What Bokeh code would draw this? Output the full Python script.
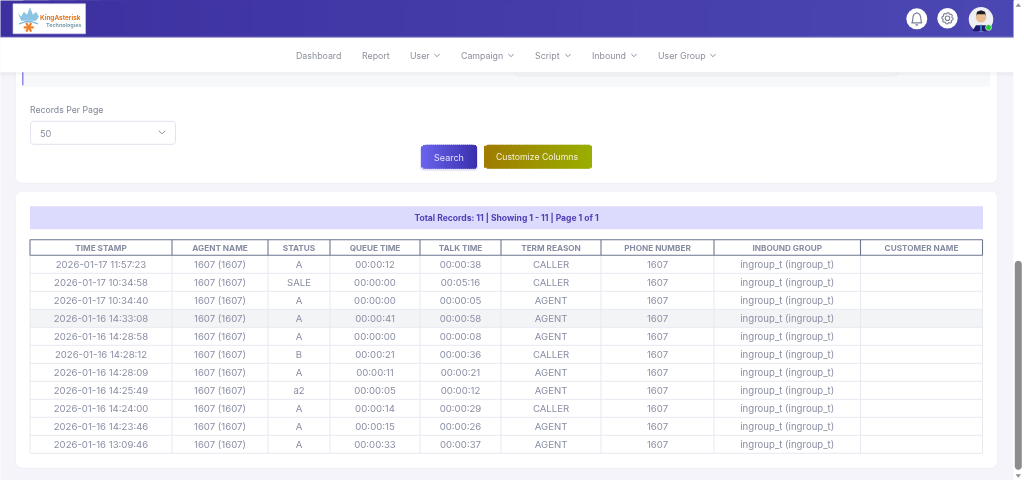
import math
from bokeh.core.properties import value
from bokeh.embed import file_html
from bokeh.models import ColumnDataSource
from bokeh.plotting import figure
from bokeh.resources import INLINE

# ---- table content ----
columns = ["TIME STAMP", "AGENT NAME", "STATUS", "QUEUE TIME", "TALK TIME",
           "TERM REASON", "PHONE NUMBER", "INBOUND GROUP", "CUSTOMER NAME"]
time_stamp = ["2026-01-17 11:57:23", "2026-01-17 10:34:58", "2026-01-17 10:34:40",
              "2026-01-16 14:33:08", "2026-01-16 14:28:58", "2026-01-16 14:28:12",
              "2026-01-16 14:28:09", "2026-01-16 14:25:49", "2026-01-16 14:24:00",
              "2026-01-16 14:23:46", "2026-01-16 13:09:46"]
agent_name = ["1607 (1607)"] * 11
status = ["A", "SALE", "A", "A", "A", "B", "A", "a2", "A", "A", "A"]
queue_time = ["00:00:12", "00:00:00", "00:00:00", "00:00:41", "00:00:00", "00:00:21",
              "00:00:11", "00:00:05", "00:00:14", "00:00:15", "00:00:33"]
talk_time = ["00:00:38", "00:05:16", "00:00:05", "00:00:58", "00:00:08", "00:00:36",
             "00:00:21", "00:00:12", "00:00:29", "00:00:26", "00:00:37"]
term_reason = ["CALLER", "CALLER", "AGENT", "AGENT", "AGENT", "CALLER",
               "AGENT", "AGENT", "CALLER", "AGENT", "AGENT"]
phone_number = ["1607"] * 11
inbound_group = ["ingroup_t (ingroup_t)"] * 11
customer_name = [""] * 11
nav_items = ["Dashboard", "Report", "User", "Campaign", "Script", "Inbound", "User Group"]
summary = "Total Records: 11 | Showing 1 - 11 | Page 1 of 1"
records_label = "Records Per Page"
records_value = "50"
button_labels = ["Search", "Customize Columns"]

# ---- layout (page pixels) ----
W, H = 1024, 480
edges = [30, 172, 268, 330, 420, 501, 601, 714, 860.5, 982.5]
head_top, head_bot = 240, 255.5
row_h = 18
nav_x = [296, 362, 410, 461, 535, 592, 658]
nav_chev = [None, None, 437, 511, 568, 634, 713]
FONT = value("Inter")
DX, DY = 0.5, 0.7

p = figure(width=W, height=H, x_range=(DX, W + DX), y_range=(H + DY, DY), output_backend="svg",
           toolbar_location=None, min_border=0, outline_line_color=None,
           background_fill_color="#f4f4fa", border_fill_color="#f4f4fa",
           styles={"position": "fixed", "left": "0", "top": "0"})
p.axis.visible = False
p.grid.visible = False


def hex_mix(a, b, t):
    ca = [int(a[i:i + 2], 16) for i in (1, 3, 5)]
    cb = [int(b[i:i + 2], 16) for i in (1, 3, 5)]
    return "#%02x%02x%02x" % tuple(round(u + (v - u) * t) for u, v in zip(ca, cb))


def rrect(x0, y0, x1, y1, r=0, fill="#ffffff", line=None, lw=1, alpha=1.0):
    xs, ys = [], []
    for cx, cy, a0 in ((x1 - r, y0 + r, -90), (x1 - r, y1 - r, 0), (x0 + r, y1 - r, 90), (x0 + r, y0 + r, 180)):
        for k in range(7):
            a = math.radians(a0 + k * 15)
            xs.append(cx + r * math.cos(a))
            ys.append(cy + r * math.sin(a))
    p.patch(xs, ys, fill_color=fill, fill_alpha=alpha, line_color=line, line_width=lw)


def grad(x0, y0, x1, y1, c0, c1, r=0, n=40):
    """Horizontal gradient as overlapping strips, with rounded ends when r > 0."""
    step = (x1 - x0) / n
    for i in range(n):
        a = x0 + i * step
        mid = a + step / 2
        inset = 0
        if r:
            d = max(x0 + r - mid, mid - (x1 - r), 0)
            inset = r - math.sqrt(max(r * r - d * d, 0))
        right = x1 if r == 0 else min(a + step + 1, x1)
        p.quad(left=[a], right=[right], top=[y0 + inset], bottom=[y1 - inset],
               fill_color=hex_mix(c0, c1, i / (n - 1)), line_color=None)


def label(x, y, txt, size, color, align="center", style="normal", font=FONT):
    p.text(x=[x], y=[y], text=[txt], text_font=font, text_font_size=f"{size}px",
           text_color=color, text_align=align, text_baseline="middle", text_font_style=style)


def chevron(x, y, size=2.6, color="#8a8f9e", lw=1.0):
    p.line([x - size, x, x + size], [y - size / 2, y + size / 2, y - size / 2],
           line_color=color, line_width=lw)


# ---- cards ----
rrect(15.5, 60, 997.5, 184, 6, fill="#eceef4", alpha=0.6)
rrect(15.5, 192, 997.5, 469, 6, fill="#eceef4", alpha=0.6)
rrect(16, 60, 997, 183, 6, fill="#ffffff")
rrect(16, 192, 997, 468, 6, fill="#ffffff")

# filter panel peeking under the nav bar
p.quad(left=[22], right=[990], top=[70], bottom=[87], fill_color="#f7f8fa", line_color=None)
p.quad(left=[22], right=[23.5], top=[70], bottom=[85.5], fill_color="#8f88e6", line_color=None)
rrect(515, 60, 897, 76, 4, fill="#f7f8fa", line="#eceef3", lw=1)

# ---- header / nav ----
grad(-2, -2, 1013.5, 37.5, "#3d30a0", "#4b47b2", n=40)
p.quad(left=[-2], right=[1013.5], top=[37], bottom=[38], fill_color="#9d98d8", line_color=None)
for i in range(5):
    p.quad(left=[-2], right=[1013.5], top=[72 + i], bottom=[73 + i], fill_color="#000000",
           fill_alpha=0.05 - i * 0.01, line_color=None)
p.quad(left=[-2], right=[1013.5], top=[38], bottom=[72.5], fill_color="#ffffff", line_color=None)
for x, name in zip(nav_x, nav_items):
    label(x, 55.6, name, 8.8, "#8b8f9c", align="left")
for x in nav_chev:
    if x:
        chevron(x, 55.6)

# scrollbar
p.quad(left=[1013.5], right=[W + 2], top=[-2], bottom=[H + 2], fill_color="#ffffff", line_color=None)
rrect(1014.8, 261, 1021.8, 470, 3.5, fill="#8c8c8c")
p.patch([1015.5, 1021, 1018.3], [7, 7, 3.5], fill_color="#8f8f8f", line_color=None)
p.patch([1015.5, 1021, 1018.3], [474.5, 474.5, 478], fill_color="#8f8f8f", line_color=None)

# ---- logo ----
p.quad(left=[13], right=[85.5], top=[4], bottom=[34], fill_color="#ffffff", line_color="#cfd0ea", line_width=0.6)
p.patch([18, 21, 24, 27, 30, 33, 36, 39, 36, 21], [13, 17, 12, 15, 7.5, 15, 12, 17, 21, 21],
        fill_color="#8cc4e4", line_color=None)
p.line([19, 25, 32, 38], [24, 22, 22, 24], line_color="#7ab8dc", line_width=1.4)
for a in (0, 60, 120):
    t = math.radians(a)
    p.line([28.7 - 5 * math.cos(t), 28.7 + 5 * math.cos(t)], [27.5 - 5 * math.sin(t), 27.5 + 5 * math.sin(t)],
           line_color="#f0822a", line_width=2.2)
label(40, 18.5, "KingAsterisk", 6.4, "#e0761c", align="left", style="bold")
label(46, 25.5, "Technologies", 5.4, "#7d9db0", align="left", style="bold")

# ---- header icons ----
p.scatter([916.8, 947.5], [19, 18.5], size=[21, 20.5], fill_color="#ffffff", line_color=None)
p.patch([912.5, 913, 914, 916.8, 919.6, 920.6, 921.2, 922, 911.6],
        [22, 17, 14.5, 13, 14.5, 17, 22, 23, 23],
        fill_color=None, line_color="#7b8196", line_width=1.2)
p.line([915.5, 916.8, 918.1], [24.6, 25.4, 24.6], line_color="#7b8196", line_width=1.2)
gear_x, gear_y = [], []
for k in range(24):
    a = math.radians(k * 15)
    rad = 5.6 if k % 3 != 2 else 4.4
    gear_x.append(947.5 + rad * math.cos(a))
    gear_y.append(18.5 + rad * math.sin(a))
p.patch(gear_x, gear_y, fill_color=None, line_color="#7b8196", line_width=1.1)
p.scatter([947.5], [18.5], size=[4.5], fill_color=None, line_color="#7b8196", line_width=1.1)
# avatar
p.scatter([981], [19.5], size=[24.5], fill_color="#eef0f4", line_color=None)
p.patch([972.5, 976, 986, 989.5, 987, 975], [31, 25.5, 25.5, 31, 31.5, 31.5], fill_color="#221a6e", line_color=None)
p.quad(left=[980.2], right=[981.8], top=[25], bottom=[31.5], fill_color="#3a8fd0", line_color=None)
p.scatter([981], [17.5], size=[10.5], fill_color="#e8bd94", line_color=None)
p.patch([976, 977, 981, 985, 986, 985, 977], [16.5, 12, 10.5, 12, 16.5, 14.5, 14.5], fill_color="#1c1c22", line_color=None)
p.scatter([988.5], [27.7], size=[6], fill_color="#27c93f", line_color="#ffffff", line_width=0.6)

# ---- form controls ----
label(30, 110.2, records_label, 8.7, "#7f8598", align="left")
rrect(30.5, 121.5, 175.5, 144.5, 3.5, fill="#ffffff", line="#dfe3ec")
label(40, 133.4, records_value, 9.2, "#878c9d", align="left")
chevron(162, 132.5, size=3.2, color="#8a8f9e")

rrect(420, 146, 478, 171, 4, fill="#8f88e8", alpha=0.25)
grad(421, 145, 477, 169, "#6a64ec", "#3a2fae", r=4, n=28)
label(449, 157.4, button_labels[0], 9.0, "#e4e2fa")
grad(484, 145, 592, 169, "#a07c00", "#99ae00", r=4, n=40)
label(537, 157.4, button_labels[1], 8.7, "#f4f2d6")

# ---- results banner ----
p.quad(left=[30], right=[983], top=[206.5], bottom=[229.5], fill_color="#dcdafd", line_color=None)
label(506.5, 218, summary, 8.55, "#5040b4", style="bold")

# ---- table ----
rows = list(zip(time_stamp, agent_name, status, queue_time, talk_time,
                term_reason, phone_number, inbound_group, customer_name))
n_rows = len(rows)
table_bot = head_bot + n_rows * row_h

p.quad(left=[edges[0]], right=[edges[-1]], top=[head_bot + 3 * row_h], bottom=[head_bot + 4 * row_h],
       fill_color="#f3f4f6", line_color=None)

grid_color = "#e7e9f0"
for i in range(1, n_rows + 1):
    y = head_bot + i * row_h
    p.line([edges[0], edges[-1]], [y, y], line_color=grid_color, line_width=1)
for x in edges:
    p.line([x, x], [head_bot, table_bot], line_color=grid_color, line_width=1)

head_color = "#6e7690"
p.quad(left=[edges[0]], right=[edges[-1]], top=[head_top], bottom=[head_bot], fill_color="#ffffff",
       line_color=head_color, line_width=1.1)
for x in edges[1:-1]:
    p.line([x, x], [head_top, head_bot], line_color=head_color, line_width=1.1)

centers = [(a + b) / 2 for a, b in zip(edges[:-1], edges[1:])]
p.text(x=centers, y=[(head_top + head_bot) / 2 + 0.3] * len(columns), text=columns, text_font=FONT,
       text_font_size="8.2px", text_font_style="bold", text_color="#878da1",
       text_align="center", text_baseline="middle")

cell_x, cell_y, cell_t = [], [], []
for r, row in enumerate(rows):
    for c, val in enumerate(row):
        if val:
            cell_x.append(centers[c])
            cell_y.append(head_bot + (r + 0.5) * row_h)
            cell_t.append(val)
p.text(x="x", y="y", text="t", source=ColumnDataSource(dict(x=cell_x, y=cell_y, t=cell_t)),
       text_font=FONT, text_font_size="9.6px", text_color="#8a8ea3",
       text_align="center", text_baseline="middle")

open("out.html", "w").write(file_html(p, INLINE))
